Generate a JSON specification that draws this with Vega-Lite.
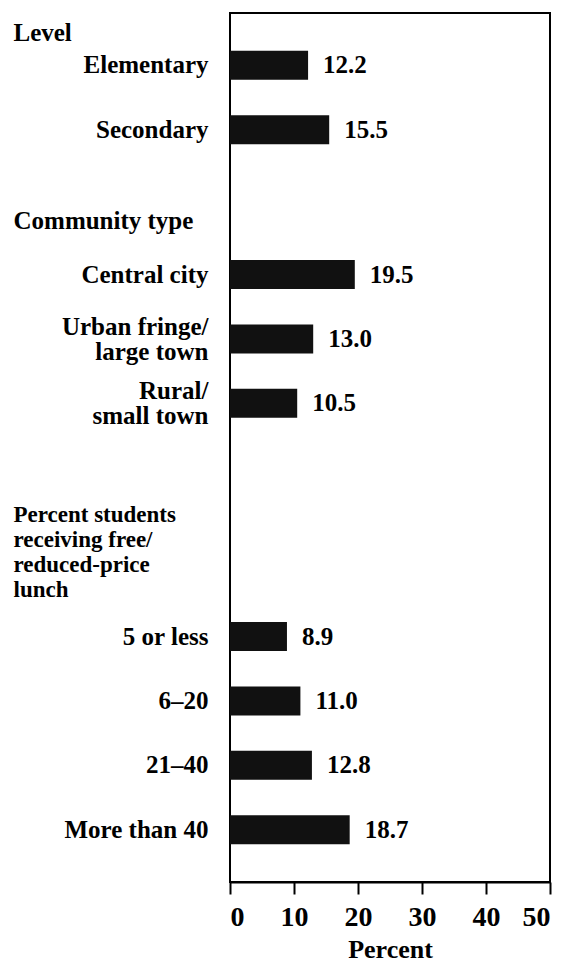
{
  "$schema": "https://vega.github.io/schema/vega-lite/v6.json",
  "autosize": {"type": "none"},
  "padding": {"left": 230, "top": 13, "right": 22, "bottom": 85},
  "width": 320,
  "height": 869,
  "background": "white",
  "config": {
    "view": {"stroke": "#000000", "strokeWidth": 2},
    "font": "Liberation Serif, DejaVu Serif, serif"
  },
  "data": {
    "values": [
      {"category": "Elementary", "value": 12.2},
      {"category": "Secondary", "value": 15.5},
      {"category": "Central city", "value": 19.5},
      {"category": "Urban fringe/|large town", "value": 13.0},
      {"category": "Rural/|small town", "value": 10.5},
      {"category": "5 or less", "value": 8.9},
      {"category": "6–20", "value": 11.0},
      {"category": "21–40", "value": 12.8},
      {"category": "More than 40", "value": 18.7}
    ]
  },
  "encoding": {
    "y": {
      "field": "category",
      "type": "nominal",
      "sort": null,
      "scale": {
        "domain": ["_0","_1","Level","_3","_4","_5","Elementary","_7","_8","_9","_10","_11","_12","_13","Secondary","_15","_16","_17","_18","_19","_20","_21","_22","_23","_24","Community type","_26","_27","_28","_29","_30","_31","Central city","_33","_34","_35","_36","_37","_38","_39","Urban fringe/|large town","_41","_42","_43","_44","_45","_46","_47","Rural/|small town","_49","_50","_51","_52","_53","_54","_55","_56","_57","_58","_59","_60","_61","_62","_63","_64","_65","_66","Percent students|receiving free/|reduced-price|lunch","_68","_69","_70","_71","_72","_73","_74","_75","_76","5 or less","_78","_79","_80","_81","_82","_83","_84","6–20","_86","_87","_88","_89","_90","_91","_92","21–40","_94","_95","_96","_97","_98","_99","_100","More than 40","_102","_103","_104","_105","_106","_107"],
        "paddingInner": 0,
        "paddingOuter": 0
      },
      "axis": {
        "title": null,
        "domain": false,
        "ticks": false,
        "grid": false,
        "labelExpr": "indexof(datum.value, '_') == 0 ? '' : split(datum.value, '|')",
        "labelFont": "Liberation Serif, DejaVu Serif, serif",
        "labelFontWeight": "bold",
        "labelColor": "#000000",
        "labelBaseline": "middle",
        "labelLineHeight": 25,
        "labelFontSize": {
          "condition": {"test": "indexof(datum.value, 'Percent students') == 0", "value": 23},
          "value": 25
        },
        "labelOffset": {
          "condition": [
            {"test": "indexof(datum.value, 'Percent students') == 0", "value": -41},
            {"test": "indexof(datum.value, '|') > 0", "value": -12},
            {"test": "datum.value == 'Community type'", "value": 3}
          ],
          "value": 0
        },
        "labelAlign": {
          "condition": {"test": "datum.value == 'Level' || datum.value == 'Community type' || indexof(datum.value, 'Percent students') == 0", "value": "left"},
          "value": "right"
        },
        "labelPadding": {
          "condition": {"test": "datum.value == 'Level' || datum.value == 'Community type' || indexof(datum.value, 'Percent students') == 0", "value": 217},
          "value": 22
        }
      }
    }
  },
  "layer": [
    {
      "mark": {"type": "bar", "color": "#111111", "size": 29},
      "encoding": {
        "x": {
          "field": "value",
          "type": "quantitative",
          "scale": {"domain": [0, 50], "nice": false},
          "axis": {
            "title": "Percent",
            "values": [0, 10, 20, 30, 40, 50],
            "grid": false,
            "domainColor": "#000000",
            "domainWidth": 2,
            "tickColor": "#000000",
            "tickWidth": 2,
            "tickSize": 12,
            "labelFont": "Liberation Serif, DejaVu Serif, serif",
            "labelFontSize": 28,
            "labelFontWeight": "bold",
            "labelColor": "#000000",
            "labelPadding": 9,
            "titleFont": "Liberation Serif, DejaVu Serif, serif",
            "titleFontSize": 26,
            "titleFontWeight": "bold",
            "titleColor": "#000000",
            "titlePadding": 5
          }
        }
      }
    },
    {
      "mark": {"type": "text", "align": "left", "baseline": "middle", "dx": 15, "fontSize": 25, "fontWeight": "bold", "font": "Liberation Serif, DejaVu Serif, serif", "color": "#000000"},
      "encoding": {
        "x": {"field": "value", "type": "quantitative"},
        "text": {"field": "value", "type": "quantitative", "format": ".1f"}
      }
    }
  ]
}
